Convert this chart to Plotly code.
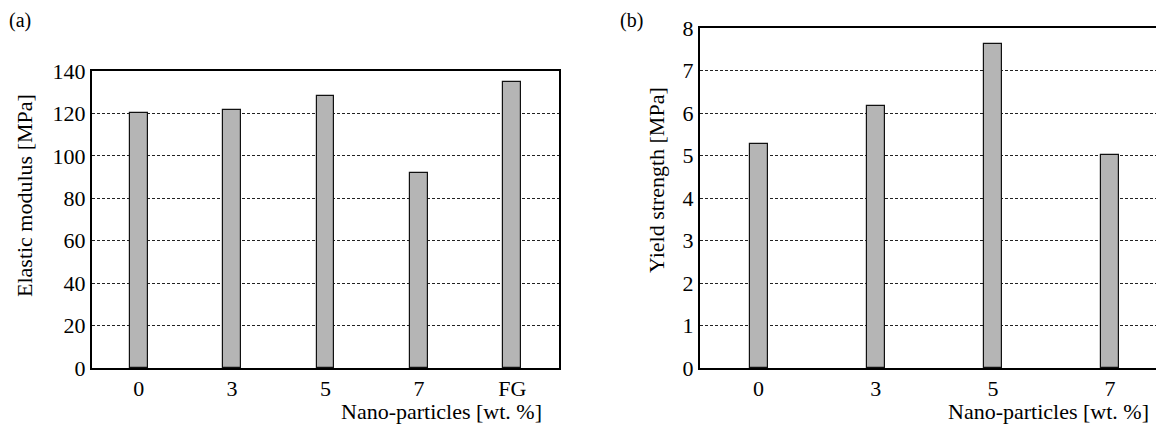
import plotly.graph_objects as go

cats_a = ["0", "3", "5", "7", "FG"]
elastic_modulus = [120.0, 121.5, 128.4, 91.8, 134.6]
cats_b = ["0", "3", "5", "7"]
yield_strength = [5.27, 6.17, 7.63, 5.02]

OFF = 8  # default page body margin
W, H = 1164 - OFF, 427 - OFF
FONT = "Liberation Serif, DejaVu Serif, serif"
BAR = "#b5b5b5"

fig = go.Figure()
fig.add_trace(go.Bar(x=cats_a, y=elastic_modulus, width=0.19, xaxis="x", yaxis="y",
                     marker=dict(color=BAR, line=dict(color="#111111", width=1.2)),
                     showlegend=False))
fig.add_trace(go.Bar(x=cats_b, y=yield_strength, width=0.155, xaxis="x2", yaxis="y2",
                     marker=dict(color=BAR, line=dict(color="#111111", width=1.2)),
                     showlegend=False))

def px(x):
    return (x - OFF) / W

def py(y):
    return 1 - (y - OFF) / H

axis_common = dict(showline=True, linecolor="black", linewidth=2, ticks="",
                   tickfont=dict(family=FONT, size=22, color="black"), zeroline=False,
                   automargin=False)
fig.update_layout(
    width=W, height=H, margin=dict(l=0, r=0, t=0, b=0),
    paper_bgcolor="white", plot_bgcolor="white", bargap=0,
    font=dict(family=FONT, color="black"),
    xaxis=dict(domain=[px(92), px(559)], anchor="y", type="category",
               range=[-0.5, 4.5], mirror=True, showgrid=False, **axis_common),
    yaxis=dict(domain=[py(368), py(71)], anchor="x", range=[0, 140],
               tickvals=[0, 20, 40, 60, 80, 100, 120, 140], mirror=True,
               showgrid=True, gridcolor="#222222", gridwidth=1, griddash="3px,2px",
               **axis_common),
    xaxis2=dict(domain=[px(700), 1.0], anchor="y2", type="category",
                range=[-0.5, 3.46], mirror=True, showgrid=False, **axis_common),
    yaxis2=dict(domain=[py(368), py(28)], anchor="x2", range=[0, 8],
                tickvals=[0, 1, 2, 3, 4, 5, 6, 7, 8], mirror=False,
                showgrid=True, gridcolor="#222222", gridwidth=1, griddash="3px,2px",
                **axis_common),
)

ann = [
    dict(text="(a)", x=px(20), y=py(21), xanchor="center", yanchor="middle", size=20),
    dict(text="(b)", x=px(631), y=py(21), xanchor="center", yanchor="middle", size=20),
    dict(text="Nano-particles [wt. %]", x=px(544), y=py(411), xanchor="right", yanchor="middle", size=22),
    dict(text="Nano-particles [wt. %]", x=px(1151), y=py(411), xanchor="right", yanchor="middle", size=22),
]
for a in ann:
    fig.add_annotation(text=a["text"], x=a["x"], y=a["y"], xref="paper", yref="paper",
                       xanchor=a["xanchor"], yanchor=a["yanchor"], showarrow=False,
                       font=dict(family=FONT, size=a["size"], color="black"))
fig.add_annotation(text="Elastic modulus [MPa]", x=px(24), y=py(196), xref="paper", yref="paper",
                   textangle=-90, showarrow=False, xanchor="center", yanchor="middle",
                   font=dict(family=FONT, size=22, color="black"))
fig.add_annotation(text="Yield strength [MPa]", x=px(656), y=py(180), xref="paper", yref="paper",
                   textangle=-90, showarrow=False, xanchor="center", yanchor="middle",
                   font=dict(family=FONT, size=22, color="black"))

fig.write_html("out.html")
